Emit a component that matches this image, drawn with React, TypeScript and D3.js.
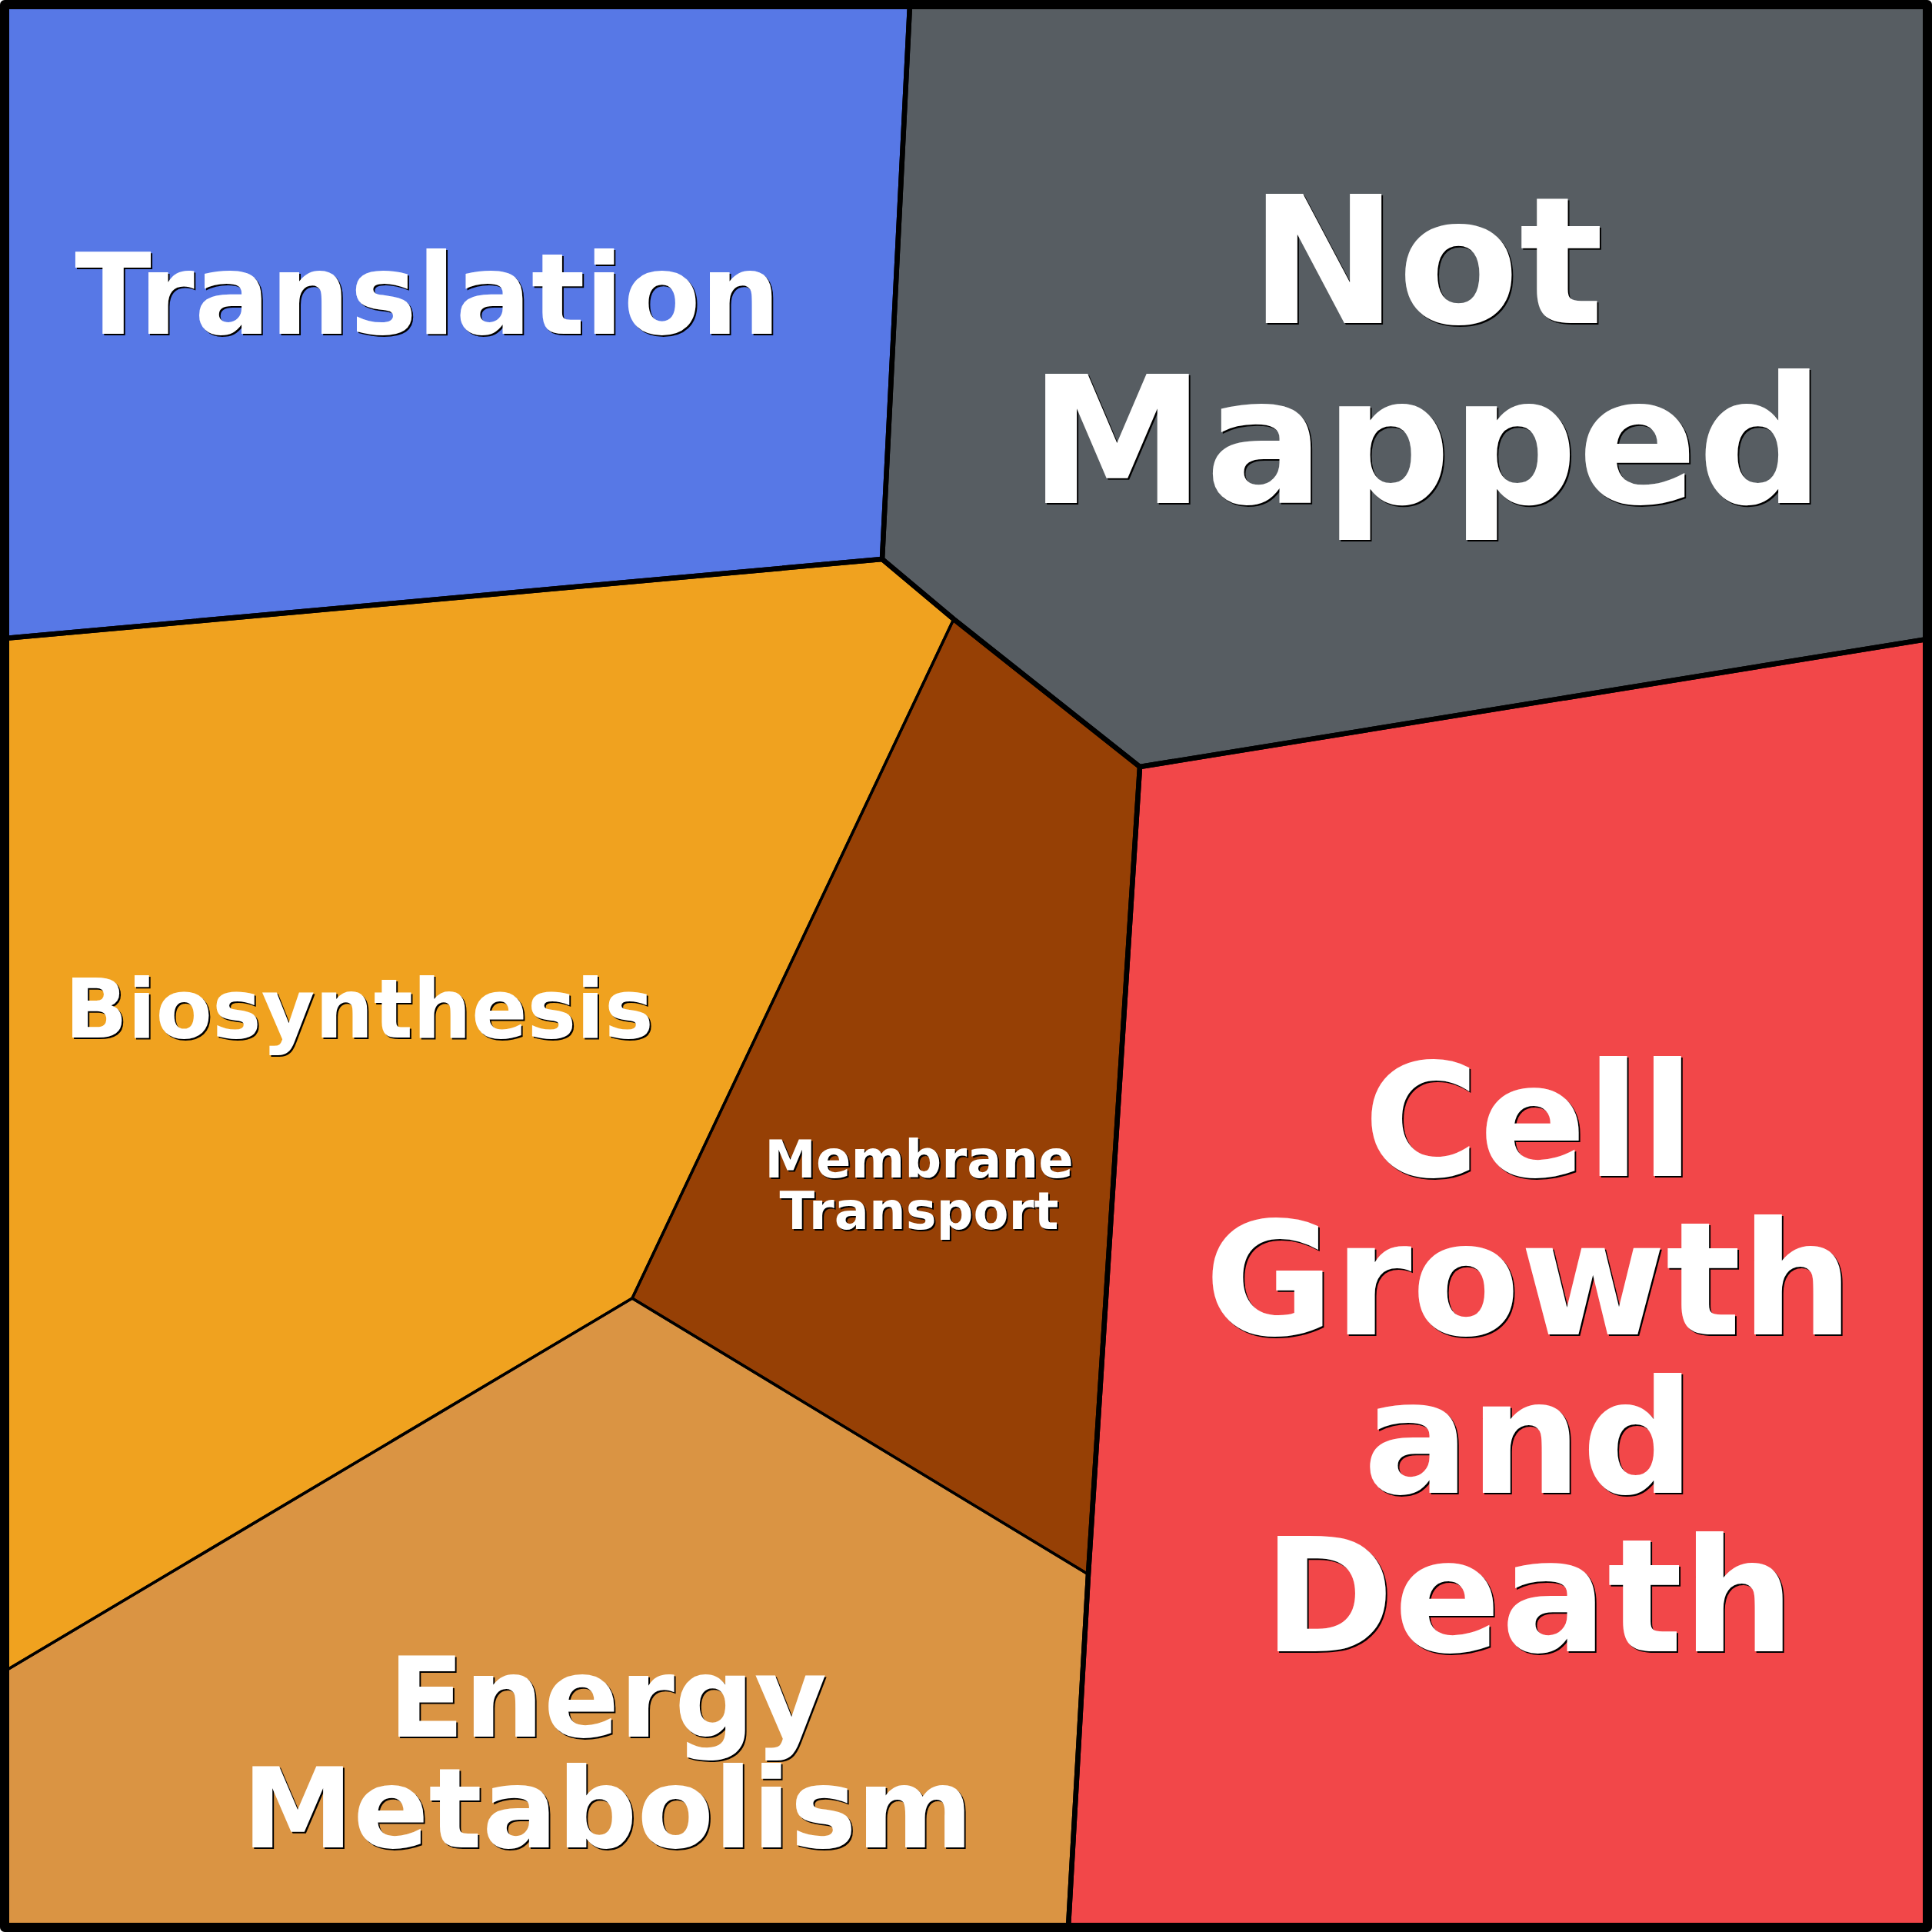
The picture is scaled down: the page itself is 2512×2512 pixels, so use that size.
import React from "react";
import * as d3 from "d3";

// Voronoi-treemap layout: shared vertices in layout units (0..2500)
const vertexNames = ["TL", "TR", "BR", "BL", "A", "B", "C", "D", "E", "F", "G", "H", "I", "J"];
const vertexX = [0, 2500, 2500, 0, 1177, 1141, 0, 1234, 1476, 2500, 816, 0, 1409, 1383];
const vertexY = [0, 0, 2500, 2500, 0, 721, 824, 799, 991, 825, 1682, 2167, 2041, 2500];

const categories = ["Translation", "Not Mapped", "Biosynthesis", "Membrane Transport", "Energy Metabolism", "Cell Growth and Death"];
const parentGroup = ["Translation", "Not Mapped", "Metabolism", "Metabolism", "Metabolism", "Cell Growth and Death"];
const cellVertices = [
  ["TL", "A", "B", "C"],
  ["A", "TR", "F", "E", "D", "B"],
  ["C", "B", "D", "G", "H"],
  ["D", "E", "I", "G"],
  ["H", "G", "I", "J", "BL"],
  ["E", "F", "BR", "J", "I"],
];
const groupNames = ["Translation", "Not Mapped", "Metabolism", "Cell Growth and Death"];
const groupVertices = [
  ["TL", "A", "B", "C"],
  ["A", "TR", "F", "E", "D", "B"],
  ["C", "B", "D", "E", "I", "J", "BL"],
  ["E", "F", "BR", "J", "I"],
];
const colors = ["#5778e6", "#575d62", "#f0a21f", "#964005", "#da9443", "#f24749"];

// labels
const labelLines = [
  ["Translation"],
  ["Not", "Mapped"],
  ["Biosynthesis"],
  ["Membrane", "Transport"],
  ["Energy", "Metabolism"],
  ["Cell", "Growth", "and", "Death"],
];
const labelX = [556, 1855, 467, 1195, 790, 1988];
const labelY = [434, 420, 1349, 1531, 2258, 1529];
const labelSize = [146, 230, 107, 67, 145, 205];
const labelLead = [0, 234, 0, 67, 144, 206];

export default function App() {
  const W = 2512;
  const x = d3.scaleLinear().domain([0, 2500]).range([6, 2506]);
  const y = d3.scaleLinear().domain([0, 2500]).range([6, 2506]);
  const vx = (n: string) => x(vertexX[vertexNames.indexOf(n)]);
  const vy = (n: string) => y(vertexY[vertexNames.indexOf(n)]);
  const line = d3.line<string>().x(vx).y(vy).curve(d3.curveLinearClosed);

  return (
    <svg
      width={W}
      height={W}
      style={{ position: "absolute", left: 0, top: 0, background: "#fff" }}
      fontFamily="DejaVu Sans"
      fontWeight="bold"
    >
      <defs>
        <clipPath id="frame">
          <rect x={6} y={6} width={2500} height={2500} />
        </clipPath>
      </defs>
      <g clipPath="url(#frame)">
        {categories.map((c, i) => (
          <path key={"f" + c} d={line(cellVertices[i]) || ""} fill={colors[i]} stroke="none" />
        ))}
        {categories.map((c, i) => (
          <path key={"s" + c} d={line(cellVertices[i]) || ""} fill="none" stroke="#000" strokeWidth={3.5} strokeLinejoin="round" />
        ))}
        {groupNames.map((g, i) => (
          <path key={"g" + g} d={line(groupVertices[i]) || ""} fill="none" stroke="#000" strokeWidth={6.5} strokeLinejoin="round" />
        ))}
      </g>
      <rect x={6} y={6} width={2500} height={2500} fill="none" stroke="#000" strokeWidth={12} strokeLinejoin="round" />
      {categories.map((c, i) => (
        <g key={"t" + c} fontSize={labelSize[i]} textAnchor="middle">
          {labelLines[i].map((ln, j) => (
            <g key={ln}>
              <text x={labelX[i] + 2} y={labelY[i] + j * labelLead[i] + 2} fill="#000">{ln}</text>
              <text x={labelX[i]} y={labelY[i] + j * labelLead[i]} fill="#fff">{ln}</text>
            </g>
          ))}
        </g>
      ))}
    </svg>
  );
}
